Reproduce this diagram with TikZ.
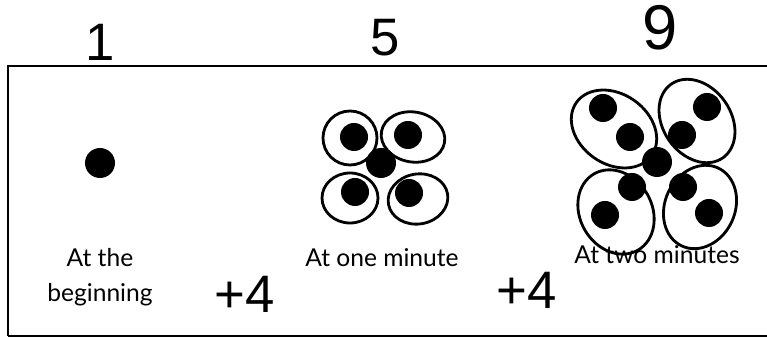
\documentclass[tikz,border=0pt]{standalone}
\usepackage{fontspec}
\setmainfont{Lato}
\newfontfamily\handfont{Liberation Sans}
\usetikzlibrary{positioning}
\tikzset{
  frame/.style={draw=black, line width=1.2pt},
  seed/.style={fill=black},
  loop/.style={draw=black, line width=1.6pt},
  caption/.style={font=\fontsize{14}{16}\selectfont, align=center, inner sep=0pt},
  hand/.style={font=\handfont\fontsize{30}{30}\selectfont, inner sep=0pt},
}

\begin{document}
\begin{tikzpicture}[x=0.02cm, y=-0.02cm]
    \useasboundingbox (0,0) rectangle (767,340);
    \draw[frame] (8,336) -- (8,66) -- (775,66);
    \draw[frame] (8,336) -- (775,336);
    % counts on top
    \node[hand] (one) at (100,42) {1};
    \node[hand] (five) at (385,38) {5};
    \node[hand, font=\handfont\fontsize{36}{36}\selectfont] (nine) at (660,28) {9};
    % at the beginning
    \fill[seed] (100,163) circle (15);
    % at one minute
    \fill[seed] (381,163) circle (15);
    \draw[loop] (350,138) ellipse [x radius=27, y radius=27];
    \draw[loop, rotate around={-10:(413,137)}] (413,137) ellipse [x radius=32, y radius=25];
    \draw[loop] (350,198) ellipse [x radius=28, y radius=25];
    \draw[loop, rotate around={10:(418,199)}] (418,199) ellipse [x radius=30, y radius=25];
    \fill[seed] (354,137) circle (14);
    \fill[seed] (408,135) circle (14);
    \fill[seed] (355,192) circle (14);
    \fill[seed] (409,193) circle (14);
    % at two minutes
    \fill[seed] (657,162) circle (15);
    \draw[loop, rotate around={-35:(614,129)}] (614,129) ellipse [x radius=46, y radius=35];
    \draw[loop, rotate around={-55:(697,121)}] (697,121) ellipse [x radius=45, y radius=34];
    \draw[loop, rotate around={-60:(616,212)}] (616,212) ellipse [x radius=44, y radius=36];
    \draw[loop, rotate around={-115:(700,207)}] (700,207) ellipse [x radius=43, y radius=35];
    \fill[seed] (603,108) circle (14);
    \fill[seed] (630,137) circle (14);
    \fill[seed] (707,107) circle (14);
    \fill[seed] (682,135) circle (14);
    \fill[seed] (632,187) circle (14);
    \fill[seed] (605,215) circle (14);
    \fill[seed] (683,187) circle (14);
    \fill[seed] (709,213) circle (14);
    % captions
    \node[caption] (start) at (100,277) {At the\\[4pt]beginning};
    \node[caption] (minone) at (382,258) {At one minute};
    \node[caption] (mintwo) at (657,255) {At two minutes};
    % differences
    \node[hand] (plusa) at (245,294) {+4};
    \node[hand] (plusb) at (527,290) {+4};
\end{tikzpicture}
\end{document}
